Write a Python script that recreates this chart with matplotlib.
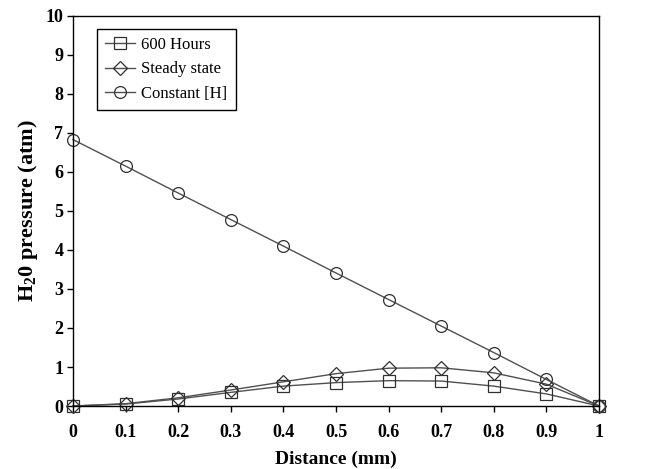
import matplotlib
matplotlib.use("Agg")
import matplotlib.pyplot as plt

plt.rcParams['font.family'] = ['Liberation Serif', 'DejaVu Serif']
plt.rcParams['mathtext.fontset'] = 'custom'
plt.rcParams['mathtext.rm'] = 'Liberation Serif'
plt.rcParams['mathtext.bf'] = 'Liberation Serif:bold'

distance = [0, 0.1, 0.2, 0.3, 0.4, 0.5, 0.6, 0.7, 0.8, 0.9, 1.0]
hours600 = [0, 0.05, 0.18, 0.35, 0.51, 0.60, 0.65, 0.64, 0.51, 0.31, 0]
steady = [0, 0.06, 0.21, 0.41, 0.62, 0.83, 0.97, 0.98, 0.85, 0.56, 0]
constant = [6.83, 6.15, 5.46, 4.78, 4.10, 3.41, 2.73, 2.05, 1.37, 0.68, 0]
series_labels = ['600 Hours', 'Steady state', 'Constant [H]']
xticks = [0, 0.1, 0.2, 0.3, 0.4, 0.5, 0.6, 0.7, 0.8, 0.9, 1]
xticklabels = ['0', '0.1', '0.2', '0.3', '0.4', '0.5', '0.6', '0.7', '0.8', '0.9', '1']
yticks = list(range(0, 11))

fig = plt.figure(figsize=(6.6, 4.69), dpi=100)
ax = fig.add_axes([0.1106, 0.1343, 0.797, 0.8317])

line_col = '#505050'
kw = dict(color=line_col, lw=1.0, markerfacecolor='none', markeredgecolor='#303030',
          markeredgewidth=0.9, markersize=8.5, clip_on=False)
ax.plot(distance, hours600, marker='s', label=series_labels[0], **{**kw, 'markersize': 8})
ax.plot(distance, steady, marker='D', label=series_labels[1], **{**kw, 'markersize': 7.5})
ax.plot(distance, constant, marker='o', label=series_labels[2], **kw)

ax.set_xlim(0, 1)
ax.set_ylim(0, 10)
ax.set_xticks(xticks)
ax.set_xticklabels(xticklabels)
ax.set_yticks(yticks)
ax.tick_params(direction='out', length=4, width=1, labelsize=13)
ax.tick_params(axis='x', pad=9)
ax.tick_params(axis='y', pad=3)
for lab in ax.get_xticklabels() + ax.get_yticklabels():
    lab.set_fontweight('bold')
for sp in ax.spines.values():
    sp.set_linewidth(1.0)

ax.set_xlabel('Distance (mm)', fontsize=14, fontweight='bold', labelpad=7)
ax.set_ylabel(r'H$_{\mathbf{2}}$0 pressure (atm)', fontsize=16, fontweight='bold', labelpad=4)

leg = ax.legend(loc='upper left', bbox_to_anchor=(0.0456, 0.967), fontsize=12,
                frameon=True, fancybox=False, edgecolor='black', framealpha=1,
                handlelength=1.8, borderpad=0.5, labelspacing=0.5, handletextpad=0.35,
                borderaxespad=0)
leg.get_frame().set_linewidth(1.0)

fig.savefig('out.png', dpi=100)
